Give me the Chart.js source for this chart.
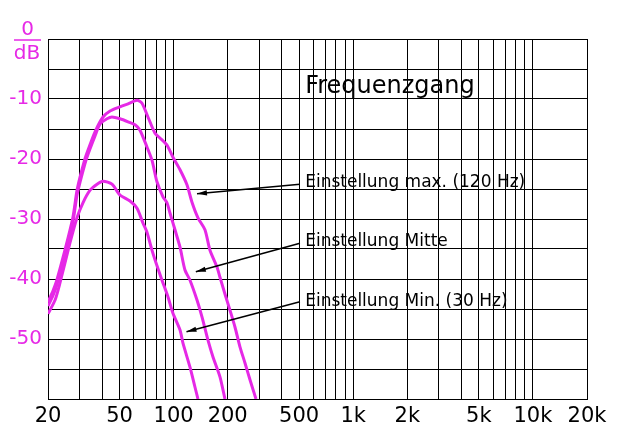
<!DOCTYPE html>
<html lang="de">
<head>
    <meta charset="UTF-8">
    <title>Frequenzgang</title>
    <script src="https://cdn.jsdelivr.net/npm/chart.js"></script>
    <style>
        html, body {
            margin: 0;
            padding: 0;
            background: #fff;
        }
        #wrap {
            width: 638px;
            height: 439px;
        }
    </style>
</head>
<body>
    <div id="wrap"><canvas id="fg"></canvas></div>

    <script>
        const maxFreq = [20, 21.3, 22.5, 27.4, 29.1, 32.1, 33.6, 36.5, 40.5, 44.3, 50.3, 55.8, 62.6, 66.7, 72, 78.8, 84, 91.9, 99.2, 108.6, 118.7, 126.6, 136.7, 149.5, 159.4, 174.4, 181.2, 193.2, 206, 219.6, 234.1, 249.7, 266.2, 287.5];
        const maxDb = [-43.8, -42, -40, -30, -25, -20, -18.3, -15.5, -13, -12, -11.3, -10.8, -10.2, -10.7, -13, -15.7, -16.5, -17.7, -19.7, -21.8, -24.3, -27.2, -29.8, -31.8, -35.2, -38, -39.7, -42.5, -45.2, -48, -51.3, -54, -56.8, -60];

        const mitteFreq = [20, 21.3, 22.5, 27.4, 29.1, 32.1, 33.6, 36.5, 38.9, 42.6, 45.4, 50.3, 55.8, 61, 65, 71.1, 75.8, 80.8, 87.3, 91.9, 95.5, 101.8, 108.6, 115.7, 123.4, 135, 143.9, 155.4, 165.7, 181.2, 193.2];
        const mitteDb = [-44.5, -42.8, -40.8, -30.8, -25.8, -20.8, -19, -16.2, -14.2, -13.3, -13, -13.3, -13.8, -14.3, -15.2, -18, -20.2, -23.8, -26.3, -27.3, -29, -31.8, -34.7, -38.5, -40.2, -43.5, -46.3, -50.2, -53, -56.3, -60];

        const minFreq = [20, 21.9, 23.3, 26.5, 29, 31.3, 34.3, 37.5, 40.5, 45.4, 50.3, 57.2, 62.6, 67.6, 71.1, 75.8, 79.8, 86.2, 93.1, 99.2, 108.6, 112.8, 123.4, 131.5, 136.7];
        const minDb = [-45.8, -43.5, -40.7, -34, -29.8, -27.3, -25.2, -24.2, -23.7, -24.2, -26, -27, -28.2, -30.7, -32.2, -35.2, -37.3, -40.2, -43, -45.7, -48.5, -50.7, -54.7, -58, -60];

        // Achsen
        const gridFreqs = [20, 30, 40, 50, 60, 70, 80, 90, 100, 200, 300, 400, 500, 600, 700, 800, 900,
                           1000, 2000, 3000, 4000, 5000, 6000, 7000, 8000, 9000, 10000, 20000];
        const xTickValues = [20, 50, 100, 200, 500, 1000, 2000, 5000, 10000, 20000];
        const xTickLabels = ['20', '50', '100', '200', '500', '1k', '2k', '5k', '10k', '20k'];
        const yTickValues = [-10, -20, -30, -40, -50];
        const yTickLabels = ['-10', '-20', '-30', '-40', '-50'];

        // Beschriftungen (Text, Pfeil-Anfang, Pfeil-Spitze in Hz/dB)
        const chartTitle = 'Frequenzgang';
        const annTexts = ['Einstellung max. (120 Hz)', 'Einstellung Mitte', 'Einstellung Min. (30 Hz)'];
        const annTextDb = [-24.7, -34.5, -44.5];
        const arrowTailDb = [-24.2, -34.05, -43.8];
        const arrowTipFreq = [135, 133, 118];
        const arrowTipDb = [-25.8, -38.8, -48.8];

        const MAG = '#e629e6';
        const FONT = "'DejaVu Sans', Verdana, sans-serif";

        const toPts = (fs, ds) => fs.map((f, i) => ({ x: f, y: ds[i] }));

        const deco = {
            id: 'deco',
            afterDraw(chart) {
                const c = chart.ctx;
                const xs = chart.scales.x, ys = chart.scales.y;
                const left = chart.chartArea.left;
                c.save();

                // "0 / dB" oben links
                const y0 = ys.getPixelForValue(0);
                c.fillStyle = MAG;
                c.strokeStyle = MAG;
                c.font = '20px ' + FONT;
                c.textAlign = 'center';
                c.textBaseline = 'alphabetic';
                c.fillText('0', left - 20.5, y0 - 4);
                c.fillText('dB', left - 21, y0 + 20);
                c.lineWidth = 1.5;
                c.beginPath();
                c.moveTo(left - 34, y0 + 1);
                c.lineTo(left - 7, y0 + 1);
                c.stroke();

                // Titel
                const textX = xs.getPixelForValue(540);
                c.fillStyle = '#000';
                c.textAlign = 'left';
                c.font = '24px ' + FONT;
                c.fillText(chartTitle, textX, ys.getPixelForValue(-9));

                // Pfeile + Texte
                c.font = '17px ' + FONT;
                c.strokeStyle = '#000';
                c.lineWidth = 1.6;
                annTexts.forEach((t, i) => {
                    c.fillText(t, textX, ys.getPixelForValue(annTextDb[i]));
                    const x1 = xs.getPixelForValue(505), y1 = ys.getPixelForValue(arrowTailDb[i]);
                    const x2 = xs.getPixelForValue(arrowTipFreq[i]), y2 = ys.getPixelForValue(arrowTipDb[i]);
                    c.beginPath();
                    c.moveTo(x1, y1);
                    c.lineTo(x2, y2);
                    c.stroke();
                    const a = Math.atan2(y2 - y1, x2 - x1);
                    c.beginPath();
                    c.moveTo(x2, y2);
                    c.lineTo(x2 - 10 * Math.cos(a) + 2.6 * Math.sin(a), y2 - 10 * Math.sin(a) - 2.6 * Math.cos(a));
                    c.lineTo(x2 - 10 * Math.cos(a) - 2.6 * Math.sin(a), y2 - 10 * Math.sin(a) + 2.6 * Math.cos(a));
                    c.closePath();
                    c.fill();
                });
                c.restore();
            }
        };

        const lineStyle = {
            borderColor: MAG,
            borderWidth: 3,
            pointRadius: 0,
            tension: 0.25,
            fill: false
        };

        new Chart(document.getElementById('fg'), {
            type: 'line',
            data: {
                datasets: [
                    { label: 'max', data: toPts(maxFreq, maxDb), ...lineStyle },
                    { label: 'Mitte', data: toPts(mitteFreq, mitteDb), ...lineStyle },
                    { label: 'Min', data: toPts(minFreq, minDb), ...lineStyle }
                ]
            },
            options: {
                responsive: true,
                maintainAspectRatio: false,
                animation: false,
                layout: { padding: { top: 39, right: 51, left: 0, bottom: 0 } },
                plugins: {
                    legend: { display: false },
                    tooltip: { enabled: false }
                },
                scales: {
                    x: {
                        type: 'logarithmic',
                        min: 20,
                        max: 20000,
                        afterBuildTicks: s => { s.ticks = gridFreqs.map(v => ({ value: v })); },
                        afterFit: s => { s.height = 40; },
                        grid: { color: '#000', lineWidth: 1, drawTicks: false },
                        border: { color: '#000', width: 1 },
                        ticks: {
                            autoSkip: false,
                            maxRotation: 0,
                            minRotation: 0,
                            padding: 5,
                            color: '#000',
                            font: { family: FONT, size: 21 },
                            callback: v => {
                                const i = xTickValues.indexOf(v);
                                return i >= 0 ? xTickLabels[i] : '';
                            }
                        }
                    },
                    y: {
                        min: -60,
                        max: 0,
                        afterFit: s => { s.width = 48; },
                        grid: { color: '#000', lineWidth: 1, drawTicks: false },
                        border: { color: '#000', width: 1 },
                        ticks: {
                            stepSize: 5,
                            padding: 6,
                            color: MAG,
                            font: { family: FONT, size: 20 },
                            callback: v => {
                                const i = yTickValues.indexOf(v);
                                return i >= 0 ? yTickLabels[i] : '';
                            }
                        }
                    }
                }
            },
            plugins: [deco]
        });
    </script>
</body>
</html>
